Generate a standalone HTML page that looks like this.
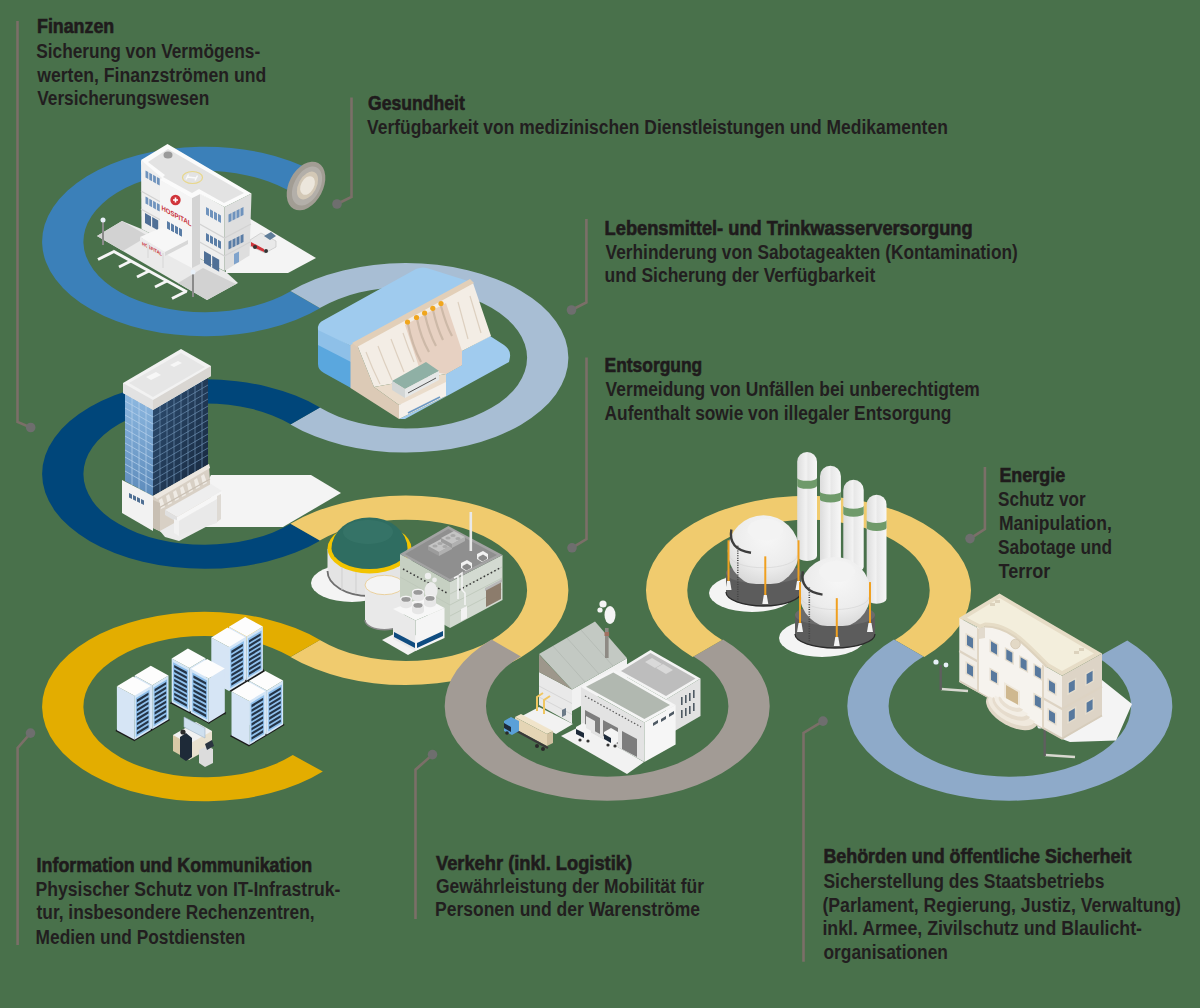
<!DOCTYPE html>
<html><head><meta charset="utf-8"><style>
html,body{margin:0;padding:0;background:#49714b;width:1200px;height:1008px;overflow:hidden}
svg{display:block}
.hb{font-family:"Liberation Sans",sans-serif;font-weight:700;font-size:19.4px;fill:#1f1b1c;stroke:#1f1b1c;stroke-width:0.6px}
.hr{font-family:"Liberation Sans",sans-serif;font-weight:700;font-size:20px;fill:#221e1f}
</style></head><body>
<svg width="1200" height="1008" viewBox="0 0 1200 1008">
<rect width="1200" height="1008" fill="#49714b"/>
<path d="M320.02,308.19 A162.50,94.74 0 1 1 315.42,172.21 L287.26,189.82 A121.20,70.66 0 1 0 290.69,291.24 Z" fill="#3b80b9"/>
<path d="M290.48,291.11 A162.50,94.74 0 1 1 290.45,424.47 L319.79,407.53 A121.20,70.66 0 1 0 319.81,308.06 Z" fill="#a8bed4"/>
<path d="M320.05,540.72 A162.50,94.74 0 1 1 320.05,407.38 L290.71,424.32 A121.20,70.66 0 1 0 290.71,523.78 Z" fill="#00467a"/>
<path d="M290.45,523.63 A162.50,94.74 0 1 1 290.48,656.99 L319.81,640.04 A121.20,70.66 0 1 0 319.79,540.57 Z" fill="#f0cb6e"/>
<path d="M322.86,771.57 A162.50,94.74 0 1 1 320.02,639.91 L290.69,656.86 A121.20,70.66 0 1 0 292.81,755.06 Z" fill="#e3ad00"/>
<path d="M723.02,639.55 A162.50,94.74 0 1 1 491.48,639.49 L520.89,656.39 A121.20,70.66 0 1 0 693.58,656.44 Z" fill="#a29b95"/>
<path d="M692.68,656.95 A162.50,94.74 0 1 1 924.32,656.95 L894.88,640.06 A121.20,70.66 0 1 0 722.12,640.06 Z" fill="#f0cb6e"/>
<path d="M1127.28,640.55 A162.50,94.74 0 1 1 893.98,639.55 L923.42,656.44 A121.20,70.66 0 1 0 1097.42,657.18 Z" fill="#8eaac9"/>

<g id="hosp">
<!-- ground paving -->
<polygon points="97,236 122,221 141.5,229 226,272 238,283 207,300" fill="#eaeaea"/>
<polygon points="97,236 122,221 148,236 123,251" fill="#d2d2d2"/>
<polygon points="178,283 203,268 236,284 207,300" fill="#d2d2d2"/>
<!-- parking lines -->
<polyline points="113,251 187,292" fill="none" stroke="#f6f6f6" stroke-width="3"/>
<path d="M114,251.5 l-16,8 M131,261 l-12,6 M149,271 l-12,6 M167,281 l-12,6 M186,291.5 l-14,7" stroke="#f6f6f6" stroke-width="3"/>
<!-- shadow right -->
<polygon points="249,218 316,258 288,273 226,273 226,240" fill="#f4f4f4"/>
<!-- ambulance -->
<polygon points="250,240 261,233 276,241 276,247 265,253 250,246" fill="#e9e9e9" stroke="#bdbdbd" stroke-width="0.6"/>
<polygon points="251,242 264,249 264,252 251,246" fill="#d0343a"/>
<polygon points="264,236 271,232 276,236 270,240" fill="#5f7d99"/>
<circle cx="255" cy="247" r="2" fill="#333"/><circle cx="266" cy="251" r="2" fill="#333"/>
<!-- main block left face -->
<polygon points="141,160 224.5,207 224.5,271 141.5,229" fill="#efefef"/>
<!-- right face -->
<polygon points="224.5,207 251.5,193.5 249.5,255.5 224.5,271" fill="#dedede"/>
<!-- floor lines -->
<polyline points="141,191 224.5,238 251,224" fill="none" stroke="#d2d2d2" stroke-width="1.2"/>
<polyline points="141,209 224.5,256 250,242" fill="none" stroke="#d2d2d2" stroke-width="1.2"/>
<!-- protrusion (stair tower) -->
<polygon points="160,180 192,198 192,268 160,251" fill="#f5f5f5"/>
<polygon points="192,198 200,194 200,264 192,268" fill="#d4d4d4"/>
<!-- windows left wing -->
<polygon points="145.5,170.5 148.3,172.1 148.3,179.1 145.5,177.5" fill="#6f93bd"/><polygon points="149.3,172.7 152.1,174.3 152.1,181.3 149.3,179.7" fill="#6f93bd"/><polygon points="153.1,174.8 155.9,176.4 155.9,183.4 153.1,181.8" fill="#6f93bd"/><polygon points="156.9,177.0 159.7,178.6 159.7,185.6 156.9,184.0" fill="#6f93bd"/>
<polygon points="145.5,196.5 148.3,198.1 148.3,205.1 145.5,203.5" fill="#6f93bd"/><polygon points="149.3,198.7 152.1,200.3 152.1,207.3 149.3,205.7" fill="#6f93bd"/><polygon points="153.1,200.8 155.9,202.4 155.9,209.4 153.1,207.8" fill="#6f93bd"/><polygon points="156.9,203.0 159.7,204.6 159.7,211.6 156.9,210.0" fill="#6f93bd"/>
<polygon points="145.0,213.0 151.0,216.4 151.0,226.4 145.0,223.0" fill="#4f6f96"/><polygon points="152.2,217.1 158.2,220.5 158.2,230.5 152.2,227.1" fill="#4f6f96"/>
<polygon points="206.0,207.0 209.0,208.7 209.0,216.2 206.0,214.5" fill="#6f93bd"/><polygon points="210.0,209.3 213.0,211.0 213.0,218.5 210.0,216.8" fill="#6f93bd"/><polygon points="214.0,211.6 217.0,213.3 217.0,220.8 214.0,219.1" fill="#6f93bd"/><polygon points="218.0,213.8 221.0,215.6 221.0,223.1 218.0,221.3" fill="#6f93bd"/>
<polygon points="206.0,233.0 209.0,234.7 209.0,242.2 206.0,240.5" fill="#5a7da6"/><polygon points="210.0,235.3 213.0,237.0 213.0,244.5 210.0,242.8" fill="#5a7da6"/><polygon points="214.0,237.6 217.0,239.3 217.0,246.8 214.0,245.1" fill="#5a7da6"/><polygon points="218.0,239.8 221.0,241.6 221.0,249.1 218.0,247.3" fill="#5a7da6"/>
<polygon points="204.0,251.0 211.0,255.0 211.0,267.0 204.0,263.0" fill="#4f6f96"/><polygon points="212.2,255.7 219.2,259.7 219.2,271.7 212.2,267.7" fill="#4f6f96"/>
<polygon points="167.0,221.0 170.0,222.7 170.0,230.2 167.0,228.5" fill="#5a7da6"/><polygon points="171.0,223.3 174.0,225.0 174.0,232.5 171.0,230.8" fill="#5a7da6"/><polygon points="175.0,225.6 178.0,227.3 178.0,234.8 175.0,233.1" fill="#5a7da6"/><polygon points="179.0,227.8 182.0,229.6 182.0,237.1 179.0,235.3" fill="#5a7da6"/>
<polygon points="228.5,214.5 231.5,213.0 231.5,221.0 228.5,222.5" fill="#6f93bd"/><polygon points="232.5,212.5 235.5,211.0 235.5,219.0 232.5,220.5" fill="#6f93bd"/><polygon points="236.5,210.5 239.5,209.0 239.5,217.0 236.5,218.5" fill="#6f93bd"/><polygon points="240.5,208.5 243.5,207.0 243.5,215.0 240.5,216.5" fill="#6f93bd"/>
<polygon points="228.5,241.5 231.5,240.0 231.5,248.0 228.5,249.5" fill="#5a7da6"/><polygon points="232.5,239.5 235.5,238.0 235.5,246.0 232.5,247.5" fill="#5a7da6"/><polygon points="236.5,237.5 239.5,236.0 239.5,244.0 236.5,245.5" fill="#5a7da6"/><polygon points="240.5,235.5 243.5,234.0 243.5,242.0 240.5,243.5" fill="#5a7da6"/>
<polygon points="234,254 239,251.5 239,262 234,264.5" fill="#7fa3cc"/>
<!-- hospital sign -->
<circle cx="175.5" cy="200" r="5.2" fill="#d0343a"/>
<path d="M173 200h5M175.5 197.5v5" stroke="#fff" stroke-width="1.6"/>
<text transform="matrix(1,0.55,0,1,161.5,210)" font-family="Liberation Sans" font-weight="700" font-size="7.2" fill="#c8333a" textLength="30" lengthAdjust="spacingAndGlyphs">HOSPITAL</text>
<!-- roof -->
<polygon points="167.5,144 251.5,193.5 224.5,207 200,194 192,198 160,180 162,178 141,160" fill="#fbfbfb"/>
<polygon points="168,149 244,193 224,203 199,189 192,193 163,177 165,175 148,162" fill="#e3e3e3"/>
<ellipse cx="192.5" cy="177.5" rx="10" ry="6" fill="none" stroke="#e8d78a" stroke-width="1.2"/>
<path d="M188.5,174.5 L186,179.5 M197.5,175.5 L195,180.5 M187.5,177 L196,178" stroke="#fafafa" stroke-width="1.4"/>
<ellipse cx="168" cy="155" rx="4.5" ry="3.5" fill="#9a9a9a"/>
<!-- canopy -->
<polygon points="140,237 163,227 188,240 165,252" fill="#f7f7f7"/>
<polygon points="140,237 165,252 165,256 140,241" fill="#ececec"/>
<polygon points="165,252 188,240 188,244 165,256" fill="#d8d8d8"/>
<text transform="matrix(1,0.55,0,1,142,245)" font-family="Liberation Sans" font-weight="700" font-size="5" fill="#c8333a" textLength="20" lengthAdjust="spacingAndGlyphs">HOSPITAL</text>
<rect x="147" y="243" width="2" height="15" fill="#e0e0e0"/>
<rect x="162" y="253" width="2" height="15" fill="#e0e0e0"/>
<!-- lamps -->
<rect x="102" y="221" width="2" height="24" fill="#8a8a8a"/>
<circle cx="103" cy="220" r="2.5" fill="#e8f0f8"/>
<rect x="192" y="273" width="2" height="24" fill="#8a8a8a"/>
<circle cx="193" cy="272" r="2.5" fill="#e8f0f8"/>
</g>
<!-- pipe end dish -->
<g id="dish">
<ellipse cx="306" cy="186" rx="26" ry="17" transform="rotate(-62 306 186)" fill="#a29d94"/>
<ellipse cx="307" cy="186" rx="21" ry="13" transform="rotate(-62 307 186)" fill="#b3afa9"/>
<ellipse cx="307.5" cy="185.5" rx="15" ry="9" transform="rotate(-62 307.5 185.5)" fill="#d3c8b6"/>
<ellipse cx="307.5" cy="185.5" rx="10" ry="6.5" transform="rotate(-62 307.5 185.5)" fill="#ece6dc"/>
</g>
<g id="dam">
<!-- lower water -->
<path d="M490,336 L504,345 Q511,350 510,357 L509,362 L405,419 L399,419 L446,396 L446,374 L462,365 L462,351 Z" fill="#a0cbee"/>
<!-- reservoir front face -->
<path d="M318,328 L351,346 L351,388 L324,373 Q318,370 318,364 Z" fill="#5aa7de"/>
<path d="M318,328 L351,346 L351,362 L318,345 Z" fill="#8ec0e8"/>
<!-- reservoir top -->
<path d="M318,330 Q317,323 324,320 L416,269 Q423,266 430,269 L468,281 L356,343 L351,346 Z" fill="#9fcbee"/>
<!-- dam left side (tan) -->
<polygon points="350.5,345 356,342 374,387 399,405 399,419 350.5,388" fill="#dccab6"/>
<!-- dam face -->
<polygon points="356,342 473,283 491,336 462,351 462,365 446,374 374,387" fill="#f3ede5"/>
<!-- buttress lines -->
<path d="M366,352 Q372,368 380,384 M378,346 Q384,362 392,380 M391,339 Q397,355 404,372 M403,333 Q408,348 414,362 M470,296 L481,333 M458,302 L468,339 M446,308 L456,345" stroke="#ddd0c0" stroke-width="1.2" fill="none"/>
<!-- spillway -->
<polygon points="405,325 446,303 462,351 462,365 446,374 420,370" fill="#e7d1c2"/>
<path d="M408,324 Q412,345 421,362 M417,319 Q421,338 429,352 M425,315 Q429,333 436,346 M433,310 Q437,328 443,340 M441,306 Q446,325 452,336" stroke="#cdb9a8" stroke-width="2.2" fill="none"/>
<!-- crest -->
<polygon points="352,343 470,279 474,283 357,347" fill="#e2cfb8"/>
<!-- gates -->
<g fill="#f0a61e"><circle cx="407.5" cy="322" r="2.6"/><circle cx="416.5" cy="317.5" r="2.6"/><circle cx="424.6" cy="313" r="2.6"/><circle cx="432.8" cy="308.3" r="2.6"/><circle cx="441" cy="303.5" r="2.6"/></g>
<!-- powerhouse base -->
<polygon points="374,387 446,374 446,396 399,405" fill="#eadccb"/>
<polygon points="399,405 446,382 446,396 399,419" fill="#f5f0ea"/>

<path d="M408,413 L440,397" stroke="#6f9ac4" stroke-width="1.6"/>
<!-- powerhouse -->
<polygon points="392,381 426,362 439,371 405,389" fill="#8fb0a5"/>
<polygon points="405,389 439,371 439,380 405,398" fill="#e6e8e8"/>
<polygon points="392,381 405,389 405,398 392,390" fill="#d2d6d6"/>
<path d="M408,393 L436,378" stroke="#555" stroke-width="1"/>
</g>
<g id="tower">
<!-- shadow -->
<polygon points="211,475 311,475 341,493 283,527 183,527" fill="#f4f4f4"/>
<!-- left glass face -->
<defs>
<linearGradient id="glassL" x1="0" y1="0" x2="0" y2="1"><stop offset="0" stop-color="#8db8e0"/><stop offset="1" stop-color="#5d8bbb"/></linearGradient>
<linearGradient id="glassR" x1="0" y1="0" x2="1" y2="1"><stop offset="0" stop-color="#2e4f73"/><stop offset="1" stop-color="#16263b"/></linearGradient>
</defs>
<polygon points="125,394 153,410 153,496 125,481" fill="url(#glassL)"/>
<!-- right dark glass face -->
<polygon points="153,410 208,378 208,465 153,496" fill="url(#glassR)"/>
<!-- grid lines left -->
<g stroke="#b9d3ec" stroke-width="0.7" fill="none">
<path d="M125,401 L153,417 M125,408 L153,424 M125,415 L153,431 M125,422 L153,438 M125,429 L153,445 M125,436 L153,452 M125,443 L153,459 M125,450 L153,466 M125,457 L153,473 M125,464 L153,480 M125,471 L153,487"/>
<path d="M132,398 V485 M139,402 V489 M146,406 V493"/>
</g>
<g stroke="#6d8fb2" stroke-width="0.7" fill="none">
<path d="M153,417 L208,385 M153,424 L208,392 M153,431 L208,399 M153,438 L208,406 M153,445 L208,413 M153,452 L208,420 M153,459 L208,427 M153,466 L208,434 M153,473 L208,441 M153,480 L208,448 M153,487 L208,455"/>
<path d="M160,406 V492 M167,402 V488 M174,398 V484 M181,394 V480 M188,390 V476 M195,386 V472 M202,382 V468"/>
</g>
<!-- roof -->
<polygon points="181,349 211,366 211,376 153,410 123,393 123,383" fill="#f2f2f2"/>
<polygon points="123,383 153,400 153,410 123,393" fill="#e2e2e2"/>
<polygon points="153,400 211,366 211,376 153,410" fill="#d9d6d2"/>
<polygon points="181,353 205,367 153,397 129,383" fill="#e6e6e6"/>
<polygon points="146,377 156,372 161,375 151,380" fill="#f7f7f7"/>
<polygon points="170,365 178,361 182,363 174,367" fill="#f7f7f7"/>
<!-- podium -->
<polygon points="122,480 153,496 153,531 122,513" fill="#f2f2f2"/>
<polygon points="153,496 209,464 211,500 165,534 153,528" fill="#d8d0c5"/><polygon points="160,531 217,499 221,519 179,541 165,537" fill="#ebebeb"/>
<polygon points="153,496 209,464 210,468 157,499" fill="#ece7e0"/>
<g fill="#efebe5">
<polygon points="159,500 162,498 165,507 161,509"/><polygon points="166,496 169,494 172,503 168,505"/>
<polygon points="173,492 176,490 179,499 175,501"/><polygon points="180,488 183,486 186,495 182,497"/>
<polygon points="187,484 190,482 193,491 189,493"/><polygon points="194,480 197,478 200,487 196,489"/>
<polygon points="201,476 204,474 207,483 203,485"/>
</g>
<path d="M157,509 L210,479" stroke="#c9c0b4" stroke-width="1.2"/>
<polygon points="179,521 217,499 217,523 179,535" fill="#e9e9e9"/>
<polygon points="153,500 160,503 160,531 153,528" fill="#c8bfb3"/>
<polygon points="165,510 211,484 222,491 177,517" fill="#eeeeee"/>
<polygon points="177,517 222,491 222,496 177,522" fill="#f6f6f6"/>
<polygon points="165,510 177,517 177,522 165,515" fill="#e0e0e0"/>
<polygon points="174,519 179,521 179,536 174,533" fill="#f2f2f2"/>
<polygon points="217,496 221,494 221,519 217,522" fill="#dedad4"/>
<g fill="#4f6f93"><polygon points="129,493 132,494.5 132,499 129,497.5"/><polygon points="133,495 136,496.5 136,501 133,499.5"/><polygon points="137,497 140,498.5 140,503 137,501.5"/><polygon points="141,499 144,500.5 144,505 141,503.5"/></g>
</g>
<g id="bio">
<!-- shadow -->
<ellipse cx="352" cy="583" rx="41" ry="19" fill="#f4f4f4"/>
<!-- big tank body -->
<path d="M327.5,549 L327.5,571 A42,25 0 0 0 411.5,571 L411.5,549 Z" fill="#e4e4e4"/>
<path d="M327.5,571 A42,25 0 0 0 411.5,571" fill="none" stroke="#6f6f6f" stroke-width="1.8"/>
<path d="M342,562 V590 M356,565 V594" stroke="#cfcfcf" stroke-width="1"/>
<!-- rim -->
<ellipse cx="369.5" cy="548.5" rx="42" ry="25" fill="#f2c400"/>
<!-- dome -->
<path d="M331.5,548.5 A38,31 0 0 1 407.5,548.5 A38,20.5 0 0 1 331.5,548.5 Z" fill="#2f6d61"/>
<ellipse cx="368" cy="532" rx="25" ry="12" fill="#3a786b" opacity="0.6"/>
<!-- small tank -->
<path d="M365,585 L365,620 A19.4,9.7 0 0 0 403.8,620 L403.8,585 Z" fill="#e9e9e9"/>
<path d="M365,620 A19.4,9.7 0 0 0 403.8,620" fill="none" stroke="#8a8a8a" stroke-width="1.4"/>
<ellipse cx="384.4" cy="585" rx="19.4" ry="9.7" fill="#f4f4f4" stroke="#e8c98a" stroke-width="0.8"/>
<!-- gray building -->
<polygon points="400,554 450,582 450,628 400,600" fill="#c6d0c2"/>
<polygon points="450,582 502.5,555 502.5,600 450,628" fill="#d3dad1"/>
<path d="M400,577 L450,605 M450,594 L502,567 M450,605 L502,578 M450,616 L502,589" stroke="#bcc6b9" stroke-width="0.8"/>
<polygon points="448.3,526 502.5,555 450,582 400,554" fill="#a3a3a3"/>
<polygon points="448.3,529 497,555 450,579 405,554" fill="#8f8f8f"/>
<polygon points="428,546 428,550 439,556 439,552" fill="#9c9c9c"/><polygon points="439,552 439,556 452,549 452,545" fill="#b0b0b0"/>
<polygon points="428,546 441,539 452,545 439,552" fill="#c4c4c4"/>
<polygon points="441,538 441,542 452,548 452,544" fill="#9c9c9c"/><polygon points="452,544 452,548 465,541 465,537" fill="#b0b0b0"/>
<polygon points="441,538 454,531 465,537 452,544" fill="#c4c4c4"/>
<g fill="#a8a8a8"><ellipse cx="435" cy="546" rx="2.6" ry="1.6"/><ellipse cx="440" cy="543.5" rx="2.6" ry="1.6"/><ellipse cx="445" cy="546.5" rx="2.6" ry="1.6"/><ellipse cx="448" cy="538" rx="2.6" ry="1.6"/><ellipse cx="453" cy="535.5" rx="2.6" ry="1.6"/><ellipse cx="458" cy="538.5" rx="2.6" ry="1.6"/></g>
<g fill="#f2f2f2"><polygon points="461,563 467,560 472,563 472,568 466,571 461,568"/><polygon points="477,554 483,551 488,554 488,559 482,562 477,559"/></g>
<g fill="#8a8a8a"><polygon points="462.5,566 467,563.5 471,566 471,568 466.5,570.5 462.5,568"/><polygon points="478.5,557 483,554.5 487,557 487,559 482.5,561.5 478.5,559"/></g>
<rect x="469.5" y="512" width="2.6" height="39" fill="#e9e9e9"/>
<path d="M403,569 L447,593" stroke="#3a3a3a" stroke-width="1.5" stroke-dasharray="1.6,2.4"/>
<path d="M459,590 L500,568" stroke="#3a3a3a" stroke-width="1.5" stroke-dasharray="1.6,2.4"/>
<polygon points="486,589 501,581 501,599 486,607" fill="#8c7c6c"/>
<polygon points="485,588 502,579 502,582 485,591" fill="#b9b9b9"/>
<polygon points="461,609 467,606 467,618 461,621" fill="#f2f2f2"/>
<path d="M454,578 L458,576 V599 M459,575 L462,573 V590 L465,593 V605" stroke="#f5f5f5" stroke-width="1.5" fill="none"/>
<!-- cooling unit platform -->
<polygon points="382,640 404,629 430,643 408,655" fill="#f2f2f2"/>
<!-- scrubber -->
<ellipse cx="431" cy="591" rx="6.5" ry="9" fill="#ececec"/>
<circle cx="428" cy="576" r="3.2" fill="#eeeeee"/><circle cx="434.5" cy="580" r="2.4" fill="#eeeeee"/>
<!-- cooling box -->
<polygon points="393,609 415.5,620.5 415.5,651 393,639" fill="#e9e9e9"/>
<polygon points="415.5,620.5 444.5,608 444.5,638 415.5,651" fill="#f5f5f5"/>
<polygon points="393,609 424.5,597 444.5,608 415.5,620.5" fill="#f7f7f7"/>
<polygon points="394,632 415,643 415,648 394,637" fill="#0f4c80"/>
<polygon points="417,643 443,631 443,636 417,648" fill="#0f4c80"/>
<path d="M400,605 V599 A6,3.3 0 0 1 412,599 V605 A6,3.3 0 0 1 400,605 Z" fill="#e6e6e6"/><ellipse cx="406" cy="599" rx="6" ry="3.3" fill="#f4f4f4"/><ellipse cx="406" cy="599.4" rx="4.6" ry="2.4" fill="#9a9a9a"/>
<path d="M412,598 V592 A6,3.3 0 0 1 424,592 V598 A6,3.3 0 0 1 412,598 Z" fill="#e6e6e6"/><ellipse cx="418" cy="592" rx="6" ry="3.3" fill="#f4f4f4"/><ellipse cx="418" cy="592.4" rx="4.6" ry="2.4" fill="#9a9a9a"/>
<path d="M412,611 V605 A6,3.3 0 0 1 424,605 V611 A6,3.3 0 0 1 412,611 Z" fill="#e6e6e6"/><ellipse cx="418" cy="605" rx="6" ry="3.3" fill="#f4f4f4"/><ellipse cx="418" cy="605.4" rx="4.6" ry="2.4" fill="#9a9a9a"/>
<path d="M424,604 V598 A6,3.3 0 0 1 436,598 V604 A6,3.3 0 0 1 424,604 Z" fill="#e6e6e6"/><ellipse cx="430" cy="598" rx="6" ry="3.3" fill="#f4f4f4"/><ellipse cx="430" cy="598.4" rx="4.6" ry="2.4" fill="#9a9a9a"/>
</g>
<g id="srv">
<polygon points="231.0,692.0 264.9,671.6 262.9,668.6 229.0,689.0" fill="#1b1b1b" />
<polygon points="246.7,680.4 229.0,670.8 229.0,626.8 246.7,636.4" fill="#d6e5f5" />
<polygon points="246.7,680.4 262.9,670.6 262.9,626.6 246.7,636.4" fill="#d4e6f7" />
<polygon points="248.0,677.6 261.6,669.4 261.6,630.4 248.0,638.6" fill="#8fc0ec" />
<polygon points="249.0,675.1 260.6,668.1 260.6,665.5 249.0,672.6" fill="#243447" />
<polygon points="249.0,670.5 260.6,663.4 260.6,660.9 249.0,668.0" fill="#243447" />
<polygon points="249.0,665.9 260.6,658.8 260.6,656.3 249.0,663.3" fill="#243447" />
<polygon points="249.0,661.3 260.6,654.2 260.6,651.7 249.0,658.7" fill="#243447" />
<polygon points="249.0,656.6 260.6,649.6 260.6,647.0 249.0,654.1" fill="#243447" />
<polygon points="249.0,652.0 260.6,644.9 260.6,642.4 249.0,649.5" fill="#243447" />
<polygon points="249.0,647.4 260.6,640.3 260.6,637.8 249.0,644.8" fill="#243447" />
<polygon points="249.0,642.8 260.6,635.7 260.6,633.2 249.0,640.2" fill="#243447" />
<polygon points="246.7,636.4 229.0,626.8 245.2,617.0 262.9,626.6" fill="#fdfdfd" />
<polygon points="229.0,691.0 211.3,681.4 211.3,637.4 229.0,647.0" fill="#d6e5f5" />
<polygon points="229.0,691.0 245.2,681.2 245.2,637.2 229.0,647.0" fill="#d4e6f7" />
<polygon points="230.3,688.2 243.9,680.0 243.9,641.0 230.3,649.2" fill="#8fc0ec" />
<polygon points="231.3,685.7 242.9,678.7 242.9,676.1 231.3,683.2" fill="#243447" />
<polygon points="231.3,681.1 242.9,674.0 242.9,671.5 231.3,678.6" fill="#243447" />
<polygon points="231.3,676.5 242.9,669.4 242.9,666.9 231.3,673.9" fill="#243447" />
<polygon points="231.3,671.9 242.9,664.8 242.9,662.3 231.3,669.3" fill="#243447" />
<polygon points="231.3,667.2 242.9,660.2 242.9,657.6 231.3,664.7" fill="#243447" />
<polygon points="231.3,662.6 242.9,655.5 242.9,653.0 231.3,660.1" fill="#243447" />
<polygon points="231.3,658.0 242.9,650.9 242.9,648.4 231.3,655.4" fill="#243447" />
<polygon points="231.3,653.4 242.9,646.3 242.9,643.8 231.3,650.8" fill="#243447" />
<polygon points="229.0,647.0 211.3,637.4 227.5,627.6 245.2,637.2" fill="#fdfdfd" />
<polygon points="169.7,703.4 225.8,714.6 224.8,712.6 171.7,701.4" fill="#1b1b1b" />
<polygon points="170.2,703.2 209.6,723.9 208.6,721.4 171.7,701.4" fill="#1b1b1b" />
<polygon points="208.1,723.9 226.3,713.1 224.8,711.6 208.6,721.4" fill="#1b1b1b" />
<polygon points="189.4,712.0 171.7,702.4 171.7,658.4 189.4,668.0" fill="#d4e6f7" />
<polygon points="188.0,709.2 173.1,701.2 173.1,662.2 188.0,670.2" fill="#8fc0ec" />
<polygon points="186.9,706.8 174.2,699.8 174.2,697.3 186.9,704.2" fill="#243447" />
<polygon points="186.9,702.1 174.2,695.2 174.2,692.7 186.9,699.6" fill="#243447" />
<polygon points="186.9,697.5 174.2,690.6 174.2,688.1 186.9,695.0" fill="#243447" />
<polygon points="186.9,692.9 174.2,686.0 174.2,683.4 186.9,690.3" fill="#243447" />
<polygon points="186.9,688.3 174.2,681.3 174.2,678.8 186.9,685.7" fill="#243447" />
<polygon points="186.9,683.6 174.2,676.7 174.2,674.2 186.9,681.1" fill="#243447" />
<polygon points="186.9,679.0 174.2,672.1 174.2,669.6 186.9,676.5" fill="#243447" />
<polygon points="186.9,674.4 174.2,667.5 174.2,664.9 186.9,671.8" fill="#243447" />
<polygon points="189.4,712.0 205.6,702.2 205.6,658.2 189.4,668.0" fill="#d6e5f5" />
<polygon points="189.4,668.0 171.7,658.4 187.9,648.6 205.6,658.2" fill="#fdfdfd" />
<polygon points="208.6,722.4 190.9,712.8 190.9,668.8 208.6,678.4" fill="#d4e6f7" />
<polygon points="207.2,719.6 192.3,711.6 192.3,672.6 207.2,680.6" fill="#8fc0ec" />
<polygon points="206.1,717.2 193.4,710.2 193.4,707.7 206.1,714.6" fill="#243447" />
<polygon points="206.1,712.5 193.4,705.6 193.4,703.1 206.1,710.0" fill="#243447" />
<polygon points="206.1,707.9 193.4,701.0 193.4,698.5 206.1,705.4" fill="#243447" />
<polygon points="206.1,703.3 193.4,696.4 193.4,693.8 206.1,700.7" fill="#243447" />
<polygon points="206.1,698.7 193.4,691.7 193.4,689.2 206.1,696.1" fill="#243447" />
<polygon points="206.1,694.0 193.4,687.1 193.4,684.6 206.1,691.5" fill="#243447" />
<polygon points="206.1,689.4 193.4,682.5 193.4,680.0 206.1,686.9" fill="#243447" />
<polygon points="206.1,684.8 193.4,677.9 193.4,675.3 206.1,682.2" fill="#243447" />
<polygon points="208.6,722.4 224.8,712.6 224.8,668.6 208.6,678.4" fill="#d6e5f5" />
<polygon points="208.6,678.4 190.9,668.8 207.1,659.0 224.8,668.6" fill="#fdfdfd" />
<polygon points="115.4,731.0 134.6,741.3 134.6,738.8 116.9,729.2" fill="#1b1b1b" />
<polygon points="134.1,741.3 170.0,719.9 168.5,718.4 134.6,738.8" fill="#1b1b1b" />
<polygon points="152.3,729.2 134.6,719.6 134.6,675.6 152.3,685.2" fill="#d6e5f5" />
<polygon points="152.3,729.2 168.5,719.4 168.5,675.4 152.3,685.2" fill="#d4e6f7" />
<polygon points="153.6,726.4 167.2,718.2 167.2,679.2 153.6,687.4" fill="#8fc0ec" />
<polygon points="154.6,723.9 166.2,716.9 166.2,714.3 154.6,721.4" fill="#243447" />
<polygon points="154.6,719.3 166.2,712.2 166.2,709.7 154.6,716.8" fill="#243447" />
<polygon points="154.6,714.7 166.2,707.6 166.2,705.1 154.6,712.1" fill="#243447" />
<polygon points="154.6,710.1 166.2,703.0 166.2,700.5 154.6,707.5" fill="#243447" />
<polygon points="154.6,705.4 166.2,698.4 166.2,695.8 154.6,702.9" fill="#243447" />
<polygon points="154.6,700.8 166.2,693.7 166.2,691.2 154.6,698.3" fill="#243447" />
<polygon points="154.6,696.2 166.2,689.1 166.2,686.6 154.6,693.6" fill="#243447" />
<polygon points="154.6,691.6 166.2,684.5 166.2,682.0 154.6,689.0" fill="#243447" />
<polygon points="152.3,685.2 134.6,675.6 150.8,665.8 168.5,675.4" fill="#fdfdfd" />
<polygon points="134.6,739.8 116.9,730.2 116.9,686.2 134.6,695.8" fill="#d6e5f5" />
<polygon points="134.6,739.8 150.8,730.0 150.8,686.0 134.6,695.8" fill="#d4e6f7" />
<polygon points="135.9,737.0 149.5,728.8 149.5,689.8 135.9,698.0" fill="#8fc0ec" />
<polygon points="136.9,734.5 148.5,727.5 148.5,724.9 136.9,732.0" fill="#243447" />
<polygon points="136.9,729.9 148.5,722.8 148.5,720.3 136.9,727.4" fill="#243447" />
<polygon points="136.9,725.3 148.5,718.2 148.5,715.7 136.9,722.7" fill="#243447" />
<polygon points="136.9,720.7 148.5,713.6 148.5,711.1 136.9,718.1" fill="#243447" />
<polygon points="136.9,716.0 148.5,709.0 148.5,706.4 136.9,713.5" fill="#243447" />
<polygon points="136.9,711.4 148.5,704.3 148.5,701.8 136.9,708.9" fill="#243447" />
<polygon points="136.9,706.8 148.5,699.7 148.5,697.2 136.9,704.2" fill="#243447" />
<polygon points="136.9,702.2 148.5,695.1 148.5,692.6 136.9,699.6" fill="#243447" />
<polygon points="134.6,695.8 116.9,686.2 133.1,676.4 150.8,686.0" fill="#fdfdfd" />
<polygon points="230.0,736.2 249.2,746.5 249.2,744.0 231.5,734.4" fill="#1b1b1b" />
<polygon points="248.7,746.5 284.6,725.1 283.1,723.6 249.2,744.0" fill="#1b1b1b" />
<polygon points="266.9,734.4 249.2,724.8 249.2,680.8 266.9,690.4" fill="#d6e5f5" />
<polygon points="266.9,734.4 283.1,724.6 283.1,680.6 266.9,690.4" fill="#d4e6f7" />
<polygon points="268.2,731.6 281.8,723.4 281.8,684.4 268.2,692.6" fill="#8fc0ec" />
<polygon points="269.2,729.1 280.8,722.1 280.8,719.5 269.2,726.6" fill="#243447" />
<polygon points="269.2,724.5 280.8,717.4 280.8,714.9 269.2,722.0" fill="#243447" />
<polygon points="269.2,719.9 280.8,712.8 280.8,710.3 269.2,717.3" fill="#243447" />
<polygon points="269.2,715.3 280.8,708.2 280.8,705.7 269.2,712.7" fill="#243447" />
<polygon points="269.2,710.6 280.8,703.6 280.8,701.0 269.2,708.1" fill="#243447" />
<polygon points="269.2,706.0 280.8,698.9 280.8,696.4 269.2,703.5" fill="#243447" />
<polygon points="269.2,701.4 280.8,694.3 280.8,691.8 269.2,698.8" fill="#243447" />
<polygon points="269.2,696.8 280.8,689.7 280.8,687.2 269.2,694.2" fill="#243447" />
<polygon points="266.9,690.4 249.2,680.8 265.4,671.0 283.1,680.6" fill="#fdfdfd" />
<polygon points="249.2,745.0 231.5,735.4 231.5,691.4 249.2,701.0" fill="#d6e5f5" />
<polygon points="249.2,745.0 265.4,735.2 265.4,691.2 249.2,701.0" fill="#d4e6f7" />
<polygon points="250.5,742.2 264.1,734.0 264.1,695.0 250.5,703.2" fill="#8fc0ec" />
<polygon points="251.5,739.7 263.1,732.7 263.1,730.1 251.5,737.2" fill="#243447" />
<polygon points="251.5,735.1 263.1,728.0 263.1,725.5 251.5,732.6" fill="#243447" />
<polygon points="251.5,730.5 263.1,723.4 263.1,720.9 251.5,727.9" fill="#243447" />
<polygon points="251.5,725.9 263.1,718.8 263.1,716.3 251.5,723.3" fill="#243447" />
<polygon points="251.5,721.2 263.1,714.2 263.1,711.6 251.5,718.7" fill="#243447" />
<polygon points="251.5,716.6 263.1,709.5 263.1,707.0 251.5,714.1" fill="#243447" />
<polygon points="251.5,712.0 263.1,704.9 263.1,702.4 251.5,709.4" fill="#243447" />
<polygon points="251.5,707.4 263.1,700.3 263.1,697.8 251.5,704.8" fill="#243447" />
<polygon points="249.2,701.0 231.5,691.4 247.7,681.6 265.4,691.2" fill="#fdfdfd" />
<polygon points="173,735 196,722 212,731 212,741 189,754 173,745" fill="#f1f1f1"/>
<polygon points="173,735 189,744 189,760 173,751" fill="#d8c9a6"/>
<polygon points="189,744 212,731 212,747 189,760" fill="#e9e1cf"/>
<polygon points="184,717 205,728 205,738 184,727" fill="#cfe0ef" stroke="#9fb4c8" stroke-width="0.6"/>
<path d="M180,737 L186,733 L192,738 L192,757 L186,761 L180,757 Z" fill="#1e2a38"/>
<circle cx="183" cy="732" r="2.6" fill="#2a2a2a"/>
<polygon points="199,750 207,746 213,749 213,763 205,767 199,763" fill="#dcdcdc"/>
<polygon points="205,744 212,740 214,746 207,750" fill="#2b3440"/>
</g>
<g id="log">
<!-- aprons -->
<polygon points="522,716 539,707 573,724 556,734" fill="#f2f2f2"/>
<polygon points="561,736 581,726 644,762 627,774" fill="#f2f2f2"/>
<!-- tall gable building -->
<polygon points="539,672 572,689.5 572,723.5 539,705" fill="#e9e9e9"/>
<path d="M539,686 L572,703.5 M539,697 L572,714.5" stroke="#d6d6d6" stroke-width="1"/>
<polygon points="539,654.5 572,689.5 539,672" fill="#9d978b"/>
<polygon points="572,689.5 627,658.3 627,680 572,711" fill="#f1f1f1"/>
<polygon points="539,654 595,621.6 627,658.3 572,689.5" fill="#c3c9c3"/>
<path d="M553,646 L585,682 M567,638 L599,674 M581,630 L613,666" stroke="#b3b9b3" stroke-width="0.8"/>
<polygon points="562,717 566,715 566,708 562,710" fill="#6c7a88"/>
<!-- yellow pipes -->
<path d="M537,711 V697 L543,693 M544,714 V700 L550,696" stroke="#f0c660" stroke-width="2" fill="none"/>
<!-- chimney + smoke -->
<rect x="605" y="628" width="3.6" height="30" fill="#8e8a84"/>
<rect x="604.5" y="632" width="4.6" height="4" fill="#a07060"/>
<ellipse cx="610" cy="615" rx="5.5" ry="9" fill="#f4f4f4"/>
<circle cx="603" cy="604" r="3.6" fill="#f4f4f4"/><circle cx="600" cy="610" r="2.6" fill="#f4f4f4"/>
<!-- back right building -->
<polygon points="666,699.6 700.5,678.5 700.5,716 666,736" fill="#e2e2e2"/>
<g fill="#4f5a64"><rect x="681" y="697" width="1.6" height="8"/><rect x="685" y="695" width="1.6" height="8"/><rect x="689" y="693" width="1.6" height="8"/><rect x="693" y="690" width="1.6" height="8"/><rect x="681" y="710" width="1.6" height="8"/><rect x="685" y="708" width="1.6" height="8"/><rect x="689" y="706" width="1.6" height="8"/><rect x="693" y="703" width="1.6" height="8"/></g>
<polygon points="650.5,649.9 700.5,678.5 666,699.6 616,671" fill="#f3f3f3"/>
<polygon points="650.5,653 695.5,678.5 666,696 621,671" fill="#bdbdbd"/>
<g fill="#d9d9d9"><polygon points="645,662 652,658 662,664 655,668"/><polygon points="656,668 663,664 673,670 666,674"/></g>
<!-- front building -->
<polygon points="581,687 644.4,722.4 644.4,762 581,727" fill="#e3e3e3"/>
<polygon points="644.4,722.4 675.6,705 675.6,744.5 644.4,762" fill="#f6f6f6"/>
<polygon points="613.3,669.3 675.6,705 644.4,722.4 581,686.7" fill="#f5f5f5"/>
<polygon points="613.3,672.5 670,705 644.4,719 586,686.7" fill="#b1b8b0"/>
<path d="M585,696 L641,727" stroke="#5a5a5a" stroke-width="1.2" stroke-dasharray="1.5,2"/>
<!-- docks -->
<polygon points="585,710 600,718 600,734 585,726" fill="#7d7d7d"/>
<polygon points="603,720 618,728 618,744 603,736" fill="#7d7d7d"/>
<polygon points="622,731 637,739 637,757 622,749" fill="#7d7d7d"/>
<g fill="#4f5a64"><polygon points="653,723 658,720 658,723 653,726"/><polygon points="661,719 666,716 666,719 661,722"/><polygon points="669,714 674,711 674,714 669,717"/></g>
<!-- trucks at docks -->
<polygon points="576,727 583,723 591,727 591,737 584,741 576,737" fill="#f4f4f4"/>
<polygon points="576,729 584,733 584,738 576,734" fill="#1d2a3a"/>
<polygon points="586,716 595,721 595,733 586,728" fill="#e6e6e6"/>
<polygon points="604,732 611,728 618,732 618,742 611,746 604,742" fill="#f4f4f4"/>
<polygon points="604,734 611,738 611,743 604,739" fill="#1d2a3a"/>
<circle cx="580" cy="740" r="1.6" fill="#333"/><circle cx="588" cy="741" r="1.6" fill="#333"/>
<circle cx="608" cy="745" r="1.6" fill="#333"/><circle cx="615" cy="746" r="1.6" fill="#333"/>
<!-- truck -->
<polygon points="515,717 521,714 553,731 547,734" fill="#f0e4ca"/>
<polygon points="515,717 547,734 547,746 515,729" fill="#e4d5b5"/>
<polygon points="547,734 553,731 553,743 547,746" fill="#cfbf9f"/>
<path d="M515,730 L548,748" stroke="#3a3a3a" stroke-width="2"/>
<circle cx="537" cy="746" r="2" fill="#2a2a2a"/><circle cx="543" cy="749" r="2" fill="#2a2a2a"/>
<polygon points="504,721 511,717 519,721 519,731 512,735 504,731" fill="#5aa0d8"/>
<polygon points="504,723 511,727 511,732 504,728" fill="#1d2a3a"/>
<circle cx="507" cy="733" r="1.8" fill="#2a2a2a"/>
</g>
<g id="gas">
<defs>
<linearGradient id="colg" x1="0" y1="0" x2="1" y2="0"><stop offset="0" stop-color="#dcdcdc"/><stop offset="0.45" stop-color="#f2f2f2"/><stop offset="0.55" stop-color="#e8e8e8"/><stop offset="1" stop-color="#f7f7f7"/></linearGradient>
<radialGradient id="sphg" cx="0.55" cy="0.3" r="0.75"><stop offset="0" stop-color="#f7f7f7"/><stop offset="0.6" stop-color="#ececec"/><stop offset="1" stop-color="#d4d4d4"/></radialGradient>
</defs>
<path d="M797.2,461.79999999999995 A9.899999999999977,9.899999999999977 0 0 1 817,461.79999999999995 L817,556 A9.899999999999977,4.949999999999989 0 0 1 797.2,556 Z" fill="url(#colg)"/>
<path d="M797.2,477.8 A9.899999999999977,2.969999999999993 0 0 0 817,477.8 L817,485.8 A9.899999999999977,2.969999999999993 0 0 1 797.2,485.8 Z" fill="#6f9a6a"/>
<path d="M820,476.25 A10.449999999999989,10.449999999999989 0 0 1 840.9,476.25 L840.9,560 A10.449999999999989,5.224999999999994 0 0 1 820,560 Z" fill="url(#colg)"/>
<path d="M820,491.4 A10.449999999999989,3.1349999999999967 0 0 0 840.9,491.4 L840.9,499.4 A10.449999999999989,3.1349999999999967 0 0 1 820,499.4 Z" fill="#6f9a6a"/>
<path d="M843.3,489.90000000000003 A10.200000000000045,10.200000000000045 0 0 1 863.7,489.90000000000003 L863.7,567 A10.200000000000045,5.100000000000023 0 0 1 843.3,567 Z" fill="url(#colg)"/>
<path d="M843.3,505.7 A10.200000000000045,3.0600000000000134 0 0 0 863.7,505.7 L863.7,513.7 A10.200000000000045,3.0600000000000134 0 0 1 843.3,513.7 Z" fill="#6f9a6a"/>
<path d="M866.7,504.5 A9.899999999999977,9.899999999999977 0 0 1 886.5,504.5 L886.5,598.7 A9.899999999999977,4.949999999999989 0 0 1 866.7,598.7 Z" fill="url(#colg)"/>
<path d="M866.7,520 A9.899999999999977,2.969999999999993 0 0 0 886.5,520 L886.5,528 A9.899999999999977,2.969999999999993 0 0 1 866.7,528 Z" fill="#6f9a6a"/>
<ellipse cx="752" cy="593" rx="43" ry="19" fill="#f4f4f4"/>
<path d="M726.0,573 A37.5,11 0 0 1 801.0,573 L801.0,592 A37.5,14 0 0 1 726.0,592 Z" fill="#6b6b6b"/>
<circle cx="763.5" cy="551" r="35.7" fill="url(#sphg)"/>
<ellipse cx="765.5" cy="529.58" rx="17.85" ry="10.71" fill="#f3f3f3"/>
<path d="M729.585,555.284 A33.915,12.495000000000001 0 0 0 797.415,555.284" fill="none" stroke="#d5d5d5" stroke-width="0.7"/>
<path d="M726.0,573 A37.5,11 0 0 0 801.0,573 L801.0,592 A37.5,14 0 0 1 726.0,592 Z" fill="#5c5c5c"/>
<path d="M726.0,592 A37.5,14 0 0 0 801.0,592" fill="none" stroke="#2b2b2b" stroke-width="1.3"/>
<rect x="727.514" y="540.29" width="2" height="49.710000000000036" fill="#f0a020"/>
<polygon points="727.014,581 730.014,581 731.514,590 725.514,590" fill="#f2f2f2"/>
<rect x="764.285" y="556.355" width="2" height="47.64499999999998" fill="#f0a020"/>
<polygon points="763.785,595 766.785,595 768.285,604 762.285,604" fill="#f2f2f2"/>
<rect x="797.486" y="540.29" width="2" height="49.710000000000036" fill="#f0a020"/>
<polygon points="796.986,581 799.986,581 801.486,590 795.486,590" fill="#f2f2f2"/>
<path d="M731.37,529.58 Q727.8,549.215 751.005,552.785" fill="none" stroke="#3d3d3d" stroke-width="2.4"/>
<path d="M737.796,545.645 V600" stroke="#444" stroke-width="1.6" stroke-dasharray="1,1.4"/>
<ellipse cx="822" cy="638" rx="43" ry="19" fill="#f4f4f4"/>
<path d="M795,615 A40,11 0 0 1 875,615 L875,634 A40,14 0 0 1 795,634 Z" fill="#6b6b6b"/>
<circle cx="835" cy="592.8" r="35.7" fill="url(#sphg)"/>
<ellipse cx="837" cy="571.38" rx="17.85" ry="10.71" fill="#f3f3f3"/>
<path d="M801.085,597.084 A33.915,12.495000000000001 0 0 0 868.915,597.084" fill="none" stroke="#d5d5d5" stroke-width="0.7"/>
<path d="M795,615 A40,11 0 0 0 875,615 L875,634 A40,14 0 0 1 795,634 Z" fill="#5c5c5c"/>
<path d="M795,634 A40,14 0 0 0 875,634" fill="none" stroke="#2b2b2b" stroke-width="1.3"/>
<rect x="799.014" y="582.0899999999999" width="2" height="49.91000000000008" fill="#f0a020"/>
<polygon points="798.514,623 801.514,623 803.014,632 797.014,632" fill="#f2f2f2"/>
<rect x="835.785" y="598.155" width="2" height="47.84500000000003" fill="#f0a020"/>
<polygon points="835.285,637 838.285,637 839.785,646 833.785,646" fill="#f2f2f2"/>
<rect x="868.986" y="582.0899999999999" width="2" height="49.91000000000008" fill="#f0a020"/>
<polygon points="868.486,623 871.486,623 872.986,632 866.986,632" fill="#f2f2f2"/>
<path d="M802.87,571.38 Q799.3,591.015 822.505,594.5849999999999" fill="none" stroke="#3d3d3d" stroke-width="2.4"/>
<path d="M809.296,587.4449999999999 V642" stroke="#444" stroke-width="1.6" stroke-dasharray="1,1.4"/>
</g>
<g id="gov">
<!-- shadow -->
<polygon points="1102,653 1102,680 1132,704 1116,740.5 1070,742 1062,739" fill="#f4f4f4"/>
<!-- lamps -->
<path d="M941,689 L968,691" stroke="#d8d8d0" stroke-width="2.5"/>
<rect x="939.5" y="665" width="2.4" height="25" fill="#5f5f5f"/>
<circle cx="936" cy="662" r="2.6" fill="#e8f0f8"/><circle cx="946" cy="665" r="2.4" fill="#e8f0f8"/>
<path d="M1045,755 L1075,757" stroke="#d8d8d0" stroke-width="2.5"/>
<rect x="1043.5" y="728" width="2.4" height="28" fill="#5f5f5f"/>
<circle cx="1040" cy="726" r="2.6" fill="#e8f0f8"/><circle cx="1050" cy="729" r="2.4" fill="#e8f0f8"/>
<!-- left face -->
<polygon points="959.3,617.7 1062,675.7 1062,739 959.3,682" fill="#f1ede6"/>
<!-- right face -->
<polygon points="1062,675.7 1102,653.4 1102,716 1062,739" fill="#ddd4c6"/>
<!-- cornices -->
<path d="M959.3,651 L1062,709 L1102,686.5" stroke="#ddd3c3" stroke-width="2.2" fill="none"/>
<path d="M959.3,681 L1062,738.5 L1102,715.5" stroke="#d6ccbb" stroke-width="2" fill="none"/>
<!-- projecting center wing -->
<polygon points="978,626 1043,663 1043,728 978,691" fill="#f6f3ee"/>

<path d="M978,626 L978,691 M1043,663 L1043,728" stroke="#e0d6c5" stroke-width="2"/>

<polygon points="965.5,632.8 974.5,637.8 974.5,650.8 965.5,645.8" fill="#e4dccd"/><polygon points="967.0,635.1 973.0,638.5 973.0,648.5 967.0,645.1" fill="#58799e"/>
<polygon points="989.5,639.0 998.5,644.0 998.5,657.0 989.5,652.0" fill="#e4dccd"/><polygon points="991.0,641.3 997.0,644.7 997.0,654.7 991.0,651.3" fill="#58799e"/>
<polygon points="1004.8,647.0 1013.8,652.0 1013.8,665.0 1004.8,660.0" fill="#e4dccd"/><polygon points="1006.3,649.3 1012.3,652.7 1012.3,662.7 1006.3,659.3" fill="#58799e"/>
<polygon points="1019.1,655.0 1028.1,660.0 1028.1,673.0 1019.1,668.0" fill="#e4dccd"/><polygon points="1020.6,657.3 1026.6,660.7 1026.6,670.7 1020.6,667.3" fill="#58799e"/>
<polygon points="1033.4,663.0 1042.4,668.0 1042.4,681.0 1033.4,676.0" fill="#e4dccd"/><polygon points="1034.9,665.3 1040.9,668.7 1040.9,678.7 1034.9,675.3" fill="#58799e"/>
<polygon points="1047.5,678.0 1056.5,683.0 1056.5,696.0 1047.5,691.0" fill="#e4dccd"/><polygon points="1049.0,680.3 1055.0,683.7 1055.0,693.7 1049.0,690.3" fill="#58799e"/>
<polygon points="965.5,661.0 974.5,666.0 974.5,679.0 965.5,674.0" fill="#e4dccd"/><polygon points="967.0,663.3 973.0,666.7 973.0,676.7 967.0,673.3" fill="#58799e"/>
<polygon points="989.5,667.6 998.5,672.6 998.5,685.6 989.5,680.6" fill="#e4dccd"/><polygon points="991.0,669.9 997.0,673.3 997.0,683.3 991.0,679.9" fill="#58799e"/>
<polygon points="1033.4,692.6 1042.4,697.6 1042.4,710.6 1033.4,705.6" fill="#e4dccd"/><polygon points="1034.9,694.9 1040.9,698.3 1040.9,708.3 1034.9,704.9" fill="#58799e"/>
<polygon points="1047.5,707.8 1056.5,712.8 1056.5,725.8 1047.5,720.8" fill="#e4dccd"/><polygon points="1049.0,710.1 1055.0,713.5 1055.0,723.5 1049.0,720.1" fill="#58799e"/>
<polygon points="1067.3,682.4 1076.3,677.4 1076.3,690.4 1067.3,695.4" fill="#e4dccd"/><polygon points="1068.8,683.1 1074.8,679.7 1074.8,689.7 1068.8,693.1" fill="#58799e"/>
<polygon points="1085.1,673.5 1094.1,668.5 1094.1,681.5 1085.1,686.5" fill="#e4dccd"/><polygon points="1086.6,674.2 1092.6,670.8 1092.6,680.8 1086.6,684.2" fill="#58799e"/>
<polygon points="1067.3,711.0 1076.3,706.0 1076.3,719.0 1067.3,724.0" fill="#e4dccd"/><polygon points="1068.8,711.7 1074.8,708.3 1074.8,718.3 1068.8,721.7" fill="#58799e"/>
<polygon points="1085.1,702.0 1094.1,697.0 1094.1,710.0 1085.1,715.0" fill="#e4dccd"/><polygon points="1086.6,702.7 1092.6,699.3 1092.6,709.3 1086.6,712.7" fill="#58799e"/>
<!-- door -->
<polygon points="1004,682 1020,691 1020,713 1004,704" fill="#efe8dc"/><polygon points="1006,685 1018,692 1018,712 1006,705" fill="#cfb88f"/>
<!-- steps -->
<path d="M987,697.5 A27,14 29 0 0 1037,725 Z" fill="#e2d8c8"/>
<path d="M989,696 A25,12.5 29 0 0 1035,721.5 Z" fill="#f0e9dd"/>
<path d="M993,697 A20,10 29 0 0 1030,717 Z" fill="#e6dccd"/>
<path d="M995,695.5 A18.5,9 29 0 0 1028,713.5 Z" fill="#f3eee5"/>
<path d="M999,696.5 A13,6.5 29 0 0 1023,709.5 Z" fill="#e9e0d2"/>
<path d="M1001,695.5 A11.5,5.5 29 0 0 1021,706.5 Z" fill="#f6f2ea"/>
<path d="M959.3,617.7 L980,628.5 L985,626.5 C1010,626.5 1026,646 1047,667 L1062,675.7 Z" fill="#f6f3ee"/>
<path d="M979,628 L985,626.5 L985,638 L979,639 Z" fill="#e2dacd"/>
<!-- roof -->
<path d="M999.5,593.6 L1102,653.4 L1062,675.7 L1047,667 C1026,646 1010,626.5 985,626.5 L980,628.5 L959.3,617.7 Z" fill="#e6dcc6"/>
<path d="M999.5,598 L1094,653.4 L1062,671 L1049,663.5 C1028,643 1012,622.5 985,622.5 L980,624.5 L967,617.7 Z" fill="#f3eedc"/>
<path d="M1047,667 C1026,646 1010,626.5 985,626.5" fill="none" stroke="#ddd2bd" stroke-width="2.2"/>
<circle cx="1015.5" cy="644" r="4.8" fill="#e3d9c6" stroke="#d3c7b1" stroke-width="0.8"/>
<g fill="#dcd2bd"><rect x="990" y="603" width="5" height="3"/><rect x="995" y="600" width="5" height="3"/><rect x="1074" y="651" width="5" height="3"/><rect x="1079" y="648" width="5" height="3"/></g>
</g>

<polyline points="17.5,21 17.5,422 30.7,427.5" fill="none" stroke="#7b6f68" stroke-width="2.6"/>
<circle cx="30.7" cy="427.5" r="4.8" fill="#6e6e6e"/>
<polyline points="351.5,97.5 351.5,197 337,204" fill="none" stroke="#7b6f68" stroke-width="2.6"/>
<circle cx="337" cy="204" r="4.8" fill="#6e6e6e"/>
<polyline points="586.4,219 586.4,302.5 571.5,310" fill="none" stroke="#7b6f68" stroke-width="2.6"/>
<circle cx="571.5" cy="310" r="4.8" fill="#6e6e6e"/>
<polyline points="586.5,357.4 586.5,539 572,547.8" fill="none" stroke="#7b6f68" stroke-width="2.6"/>
<circle cx="572" cy="547.8" r="4.8" fill="#6e6e6e"/>
<polyline points="984.9,467 984.9,529 970,538.6" fill="none" stroke="#7b6f68" stroke-width="2.6"/>
<circle cx="970" cy="538.6" r="4.8" fill="#6e6e6e"/>
<polyline points="17.6,945 17.6,748 30.5,733.1" fill="none" stroke="#7b6f68" stroke-width="2.6"/>
<circle cx="30.5" cy="733.1" r="4.8" fill="#6e6e6e"/>
<polyline points="415.5,919 415.5,769.7 432.5,754.6" fill="none" stroke="#7b6f68" stroke-width="2.6"/>
<circle cx="432.5" cy="754.6" r="4.8" fill="#6e6e6e"/>
<polyline points="803.5,961.8 803.5,733 823,721.1" fill="none" stroke="#7b6f68" stroke-width="2.6"/>
<circle cx="823" cy="721.1" r="4.8" fill="#6e6e6e"/>

<text class="hb" x="37.00" y="33.40" textLength="77.20" lengthAdjust="spacingAndGlyphs">Finanzen</text>
<text class="hr" x="36.20" y="58.10" textLength="224.00" lengthAdjust="spacingAndGlyphs">Sicherung von Vermögens-</text>
<text class="hr" x="37.20" y="81.90" textLength="229.00" lengthAdjust="spacingAndGlyphs">werten, Finanzströmen und</text>
<text class="hr" x="37.20" y="105.30" textLength="172.00" lengthAdjust="spacingAndGlyphs">Versicherungswesen</text>
<text class="hb" x="368.00" y="110.30" textLength="96.80" lengthAdjust="spacingAndGlyphs">Gesundheit</text>
<text class="hr" x="367.00" y="133.70" textLength="580.80" lengthAdjust="spacingAndGlyphs">Verfügbarkeit von medizinischen Dienstleistungen und Medikamenten</text>
<text class="hb" x="604.60" y="235.00" textLength="368.00" lengthAdjust="spacingAndGlyphs">Lebensmittel- und Trinkwasserversorgung</text>
<text class="hr" x="605.60" y="259.00" textLength="412.20" lengthAdjust="spacingAndGlyphs">Verhinderung von Sabotageakten (Kontamination)</text>
<text class="hr" x="604.60" y="282.00" textLength="270.60" lengthAdjust="spacingAndGlyphs">und Sicherung der Verfügbarkeit</text>
<text class="hb" x="604.60" y="372.00" textLength="97.60" lengthAdjust="spacingAndGlyphs">Entsorgung</text>
<text class="hr" x="605.60" y="396.00" textLength="374.20" lengthAdjust="spacingAndGlyphs">Vermeidung von Unfällen bei unberechtigtem</text>
<text class="hr" x="604.60" y="420.00" textLength="346.80" lengthAdjust="spacingAndGlyphs">Aufenthalt sowie von illegaler Entsorgung</text>
<text class="hb" x="999.40" y="481.70" textLength="65.80" lengthAdjust="spacingAndGlyphs">Energie</text>
<text class="hr" x="998.00" y="505.80" textLength="87.60" lengthAdjust="spacingAndGlyphs">Schutz vor</text>
<text class="hr" x="999.00" y="529.60" textLength="112.80" lengthAdjust="spacingAndGlyphs">Manipulation,</text>
<text class="hr" x="998.00" y="553.50" textLength="114.00" lengthAdjust="spacingAndGlyphs">Sabotage und</text>
<text class="hr" x="998.60" y="577.60" textLength="51.80" lengthAdjust="spacingAndGlyphs">Terror</text>
<text class="hb" x="36.60" y="872.10" textLength="275.60" lengthAdjust="spacingAndGlyphs">Information und Kommunikation</text>
<text class="hr" x="35.60" y="895.90" textLength="304.80" lengthAdjust="spacingAndGlyphs">Physischer Schutz von IT-Infrastruk-</text>
<text class="hr" x="36.60" y="919.40" textLength="278.00" lengthAdjust="spacingAndGlyphs">tur, insbesondere Rechenzentren,</text>
<text class="hr" x="35.60" y="943.50" textLength="209.80" lengthAdjust="spacingAndGlyphs">Medien und Postdiensten</text>
<text class="hb" x="436.00" y="870.00" textLength="196.00" lengthAdjust="spacingAndGlyphs">Verkehr (inkl. Logistik)</text>
<text class="hr" x="436.00" y="893.00" textLength="268.00" lengthAdjust="spacingAndGlyphs">Gewährleistung der Mobilität für</text>
<text class="hr" x="435.00" y="916.25" textLength="265.00" lengthAdjust="spacingAndGlyphs">Personen und der Warenströme</text>
<text class="hb" x="823.40" y="863.40" textLength="308.00" lengthAdjust="spacingAndGlyphs">Behörden und öffentliche Sicherheit</text>
<text class="hr" x="823.40" y="888.10" textLength="281.00" lengthAdjust="spacingAndGlyphs">Sicherstellung des Staatsbetriebs</text>
<text class="hr" x="822.40" y="911.50" textLength="358.60" lengthAdjust="spacingAndGlyphs">(Parlament, Regierung, Justiz, Verwaltung)</text>
<text class="hr" x="822.40" y="934.90" textLength="319.60" lengthAdjust="spacingAndGlyphs">inkl. Armee, Zivilschutz und Blaulicht-</text>
<text class="hr" x="823.40" y="958.60" textLength="124.60" lengthAdjust="spacingAndGlyphs">organisationen</text>

</svg>
</body></html>
